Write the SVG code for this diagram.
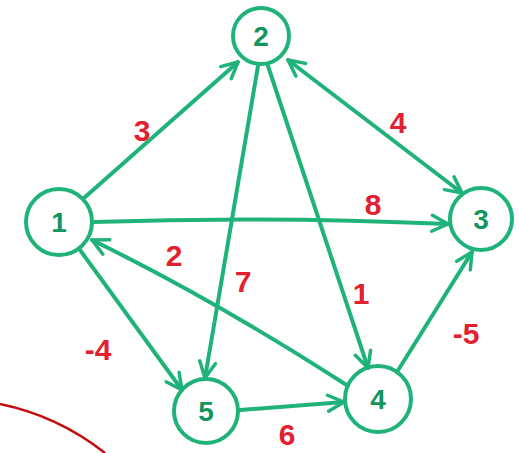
<svg xmlns="http://www.w3.org/2000/svg" width="519" height="453" viewBox="0 0 519 453">
<defs>
<marker id="arr" viewBox="0 0 20 20" refX="18" refY="10" markerWidth="20" markerHeight="20" markerUnits="userSpaceOnUse" orient="auto-start-reverse">
<path d="M2,2 L18,10 L2,18" fill="none" stroke="#1fb37a" stroke-width="3.5" stroke-linecap="round" stroke-linejoin="round"/>
</marker>
<style>
.node circle{fill:none;stroke:#1fb37a;stroke-width:4}
.node text{font-family:"Liberation Sans",Arial,sans-serif;font-size:28px;font-weight:bold;fill:#14955f;text-anchor:middle}
.edge{fill:none;stroke:#1fb37a;stroke-width:4;stroke-linecap:round;marker-end:url(#arr)}
.lbl{font-family:"Liberation Sans",Arial,sans-serif;font-size:30px;font-weight:bold;fill:#e3202f;text-anchor:middle}
</style>
</defs>
<path d="M0,404 Q58,416 105,453" fill="none" stroke="#c00d0d" stroke-width="2.5"/>
<g id="connectors">
<path class="edge" d="M84,198 L238,62"/>
<path class="edge" d="M462,193 L288,60" style="marker-start:url(#arr)"/>
<path class="edge" d="M93,222 Q270,216 448,224"/>
<path class="edge" d="M258,66 L205,378"/>
<path class="edge" d="M268,66 L368,368"/>
<path class="edge" d="M348,386 Q215,300 92,240"/>
<path class="edge" d="M80,250 L182,390"/>
<path class="edge" d="M397,372 L472,252"/>
<path class="edge" d="M240,410 L344,402"/>
</g>
<g id="labels">
<text class="lbl" x="142" y="141">3</text>
<text class="lbl" x="398" y="133">4</text>
<text class="lbl" x="373" y="215">8</text>
<text class="lbl" x="174" y="266">2</text>
<text class="lbl" x="243" y="292">7</text>
<text class="lbl" x="361" y="304">1</text>
<text class="lbl" x="98" y="360">-4</text>
<text class="lbl" x="466" y="344">-5</text>
<text class="lbl" x="287" y="445">6</text>
</g>
<g id="node1" class="node"><circle cx="59" cy="222" r="33"/><text x="59" y="232">1</text></g>
<g id="node2" class="node"><circle cx="261" cy="36" r="28"/><text x="261" y="46">2</text></g>
<g id="node3" class="node"><circle cx="481" cy="219" r="31"/><text x="481" y="229">3</text></g>
<g id="node4" class="node"><circle cx="378" cy="399" r="33"/><text x="378" y="409">4</text></g>
<g id="node5" class="node"><circle cx="206" cy="411" r="32"/><text x="206" y="421">5</text></g>
</svg>
